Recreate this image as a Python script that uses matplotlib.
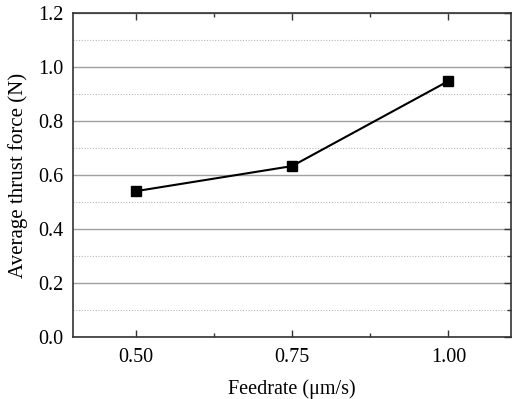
import matplotlib
matplotlib.use('Agg')
import matplotlib.pyplot as plt
from matplotlib.ticker import MultipleLocator, FormatStrFormatter

plt.rcParams['font.family'] = ['Liberation Serif', 'DejaVu Serif']

feedrate = [0.50, 0.75, 1.00]
thrust_force = [0.540, 0.633, 0.948]
x_ticks = [0.50, 0.75, 1.00]
x_tick_labels = ['0.50', '0.75', '1.00']

fig = plt.figure(figsize=(5.19, 3.99), dpi=100)
ax = fig.add_axes([0.1407, 0.1554, 0.8439, 0.812])

# grid: solid at majors, dotted at minors
ax.yaxis.set_major_locator(MultipleLocator(0.2))
ax.yaxis.set_minor_locator(MultipleLocator(0.1))
ax.grid(which='major', axis='y', color='#a0a0a0', linewidth=1.0)
ax.grid(which='minor', axis='y', color='#b8b8b8', linewidth=0.8, linestyle=(0, (1, 1.5)))
ax.set_axisbelow(True)

ax.plot(feedrate, thrust_force, color='black', linewidth=1.5,
        marker='s', markersize=6.5, zorder=3)

ax.set_xlim(0.4, 1.1)
ax.set_ylim(0.0, 1.2)
ax.set_xticks(x_ticks)
ax.set_xticklabels(x_tick_labels)
ax.xaxis.set_minor_locator(MultipleLocator(0.125))
ax.yaxis.set_major_formatter(FormatStrFormatter('%.1f'))

ax.tick_params(which='both', direction='in', top=True, right=True,
               labelsize=14.5, width=1.0, color='#333333')
ax.tick_params(which='major', length=5)
ax.tick_params(which='minor', length=3)
ax.tick_params(axis='y', which='both', left=False, pad=7)
ax.tick_params(axis='x', which='both', pad=8)

for side in ax.spines.values():
    side.set_color('#333333')
    side.set_linewidth(1.2)

ax.set_xlabel('Feedrate (μm/s)', fontsize=14.5, labelpad=9)
ax.set_ylabel('Average thrust force (N)', fontsize=15, labelpad=7)

fig.savefig('out.png', dpi=100)
